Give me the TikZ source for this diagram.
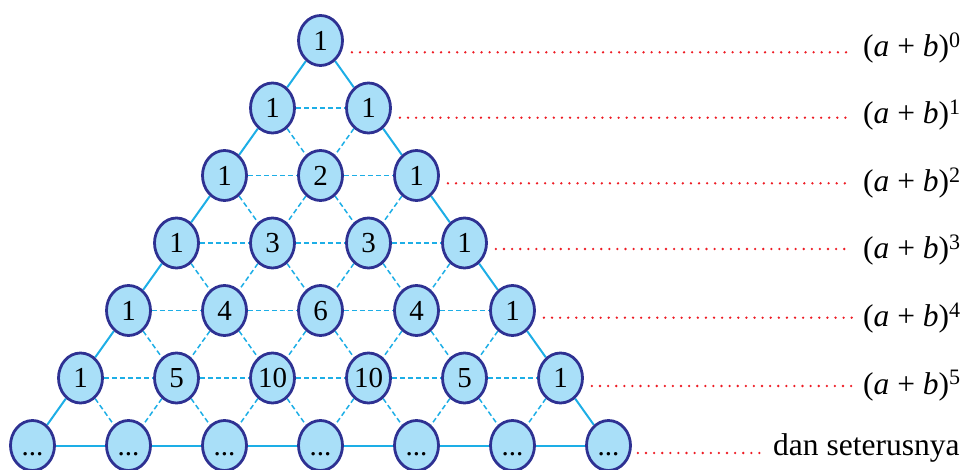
\documentclass[tikz,border=0pt]{standalone}
\usepackage{fontspec}
\setmainfont{Liberation Serif}
\definecolor{navy}{HTML}{2E3192}
\definecolor{skyfill}{HTML}{A9DFF8}
\definecolor{cyanline}{HTML}{1DAEE6}
\definecolor{dotred}{HTML}{ED1C24}
\usetikzlibrary{shapes.geometric, backgrounds}
\tikzset{
  coef/.style={ellipse, draw=navy, line width=2.8pt, fill=skyfill,
    minimum width=44pt, minimum height=50pt, inner sep=0pt,
    text height=20pt, text depth=0pt, font=\fontsize{29}{34}\selectfont},
  rim/.style={cyanline, line width=2pt},
  web/.style={cyanline, line width=1.5pt, dash pattern=on 5pt off 3pt},
  leader/.style={dotred, line width=2.6pt, line cap=round, dash pattern=on 0pt off 8.1pt},
  power/.style={anchor=base west, inner sep=0pt, font=\fontsize{31.5}{36}\selectfont}
}

\begin{document}
\begin{tikzpicture}[x=1pt, y=-1pt]
  \useasboundingbox (0,0) rectangle (964,470);

  % the triangle
  \foreach \r/\vals in {0/{1}, 1/{1,1}, 2/{1,2,1}, 3/{1,3,3,1}, 4/{1,4,6,4,1}, 5/{1,5,10,10,5,1}}
    \foreach \v [count=\k from 0] in \vals
      \node[coef] (n\r-\k) at ({320.5+(2*\k-\r)*48}, {40.5+67.5*\r}) {\v};
  \foreach \k in {0,...,6}
    \node[coef] (n6-\k) at ({320.5+(2*\k-6)*48}, 445.5) {...};

  \begin{scope}[on background layer]
    % diagonals
    \foreach \r in {0,...,5} {
      \pgfmathtruncatemacro\nr{\r+1}
      \foreach \k in {0,...,\r} {
        \pgfmathtruncatemacro\kk{\k+1}
        \ifnum\k=0 \draw[rim] (n\r-\k) -- (n\nr-\k); \else \draw[web] (n\r-\k) -- (n\nr-\k); \fi
        \ifnum\k=\r \draw[rim] (n\r-\k) -- (n\nr-\kk); \else \draw[web] (n\r-\k) -- (n\nr-\kk); \fi
      }
    }
    % rows
    \foreach \r in {1,...,6} {
      \pgfmathtruncatemacro\rm{\r-1}
      \foreach \k in {0,...,\rm} {
        \pgfmathtruncatemacro\kk{\k+1}
        \ifnum\r=6 \draw[rim] (n\r-\k) -- (n\r-\kk); \else \draw[web] (n\r-\k) -- (n\r-\kk); \fi
      }
    }
  \end{scope}

  % powers
  \foreach \r/\d in {0/52.3, 1/117.7, 2/183.3, 3/249, 4/317.7, 5/386} {
    \node[power] (p\r) at (863, {56.5+67.5*\r}) {(\textit{a} + \textit{b})\textsuperscript{\r}};
    \coordinate (d\r) at (852, \d);
    \draw[leader] ([xshift=8pt]n\r-\r.east |- d\r) -- (d\r);
  }
  \node[power] (p6) at (773, 455.5) {dan seterusnya};
  \coordinate (d6) at (760, 453);
  \draw[leader] ([xshift=6pt]n6-6.east |- d6) -- (d6);
\end{tikzpicture}
\end{document}
